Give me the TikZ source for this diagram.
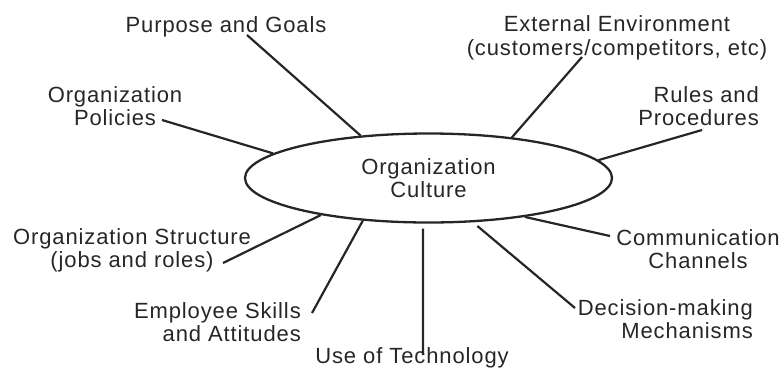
\documentclass[tikz,border=0pt]{standalone}
\usepackage{fontspec}
\setmainfont{Liberation Sans}[LetterSpace=4]
\usetikzlibrary{shapes.geometric}

\begin{document}
\begin{tikzpicture}[x=1pt, y=-1pt,
  every node/.style={font=\fontsize{22}{23.5}\selectfont, text=black!85, inner sep=0pt},
  spoke/.style={line width=2.2pt, draw=black!85},
  hub/.style={draw=black!85, line width=2.3pt, ellipse, align=center,
    minimum width=367pt, minimum height=89pt}]
  \useasboundingbox (0,0) rectangle (782,368);

  % the centre and what feeds into it
  \node[hub] (culture) at (428.5,178) {Organization\\Culture};

  \node[anchor=base] (purpose) at (226,32) {Purpose and Goals};
  \node[align=center] (policies) at (115,106) {Organization\\Policies};
  \node[align=center] (environment) at (617,38)
    {External Environment\\(customers/competitors, etc)};
  \node[align=right, anchor=east] (rules) at (759,106) {Rules and\\Procedures};
  \node[align=center] (structure) at (132,250.5)
    {Organization Structure\\(jobs and roles)};
  \node[align=right, anchor=east] (skills) at (301,322)
    {Employee Skills\\and Attitudes};
  \node[anchor=base] (technology) at (412,363) {Use of Technology};
  \node[align=center] (channels) at (698,249) {Communication\\Channels};
  \node[align=right, anchor=east] (decisions) at (753,319)
    {Decision-making\\Mechanisms};

  % outer ends of the spokes
  \coordinate (purpose-end) at (247,35);
  \coordinate (policies-end) at (162,120);
  \coordinate (environment-end) at (582,57);
  \coordinate (rules-end) at (702,130);
  \coordinate (structure-end) at (223,263);
  \coordinate (skills-end) at (312,313);
  \coordinate (technology-end) at (423,355);
  \coordinate (channels-end) at (610,236);
  \coordinate (decisions-end) at (575,308);

  \draw[spoke] (purpose-end) -- (culture.148.5);
  \draw[spoke] (policies-end) -- (culture.171.3);
  \draw[spoke] (environment-end) -- (culture.26.8);
  \draw[spoke] (rules-end) -- (culture.6.1);
  \draw[spoke] (structure-end) -- (culture.199.8);
  \draw[spoke] (skills-end) -- (culture.213.7);
  \draw[spoke] (technology-end) -- ([yshift=-5pt]culture.263);
  \draw[spoke] (channels-end) -- (culture.-22.7);
  \draw[spoke] (decisions-end) -- ([yshift=-4pt]culture.-42);
\end{tikzpicture}
\end{document}
